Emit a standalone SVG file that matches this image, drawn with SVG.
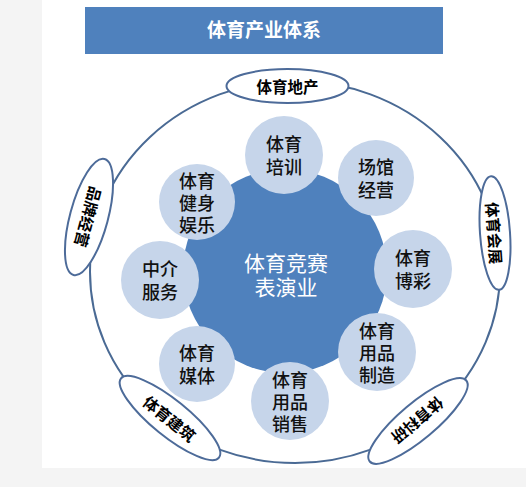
<svg xmlns="http://www.w3.org/2000/svg" width="526" height="487" viewBox="0 0 526 487">
<style>
  .cjk { font-family: "Noto Sans CJK SC", "Noto Sans", sans-serif; }
  .bub { fill: #c6d5ea; }
  .bubt { font-size: 18px; fill: #111; text-anchor: middle; font-weight: 500; }
  .lab { fill: #ffffff; stroke: #4d6b99; stroke-width: 2; }
  .labt { font-size: 15.5px; fill: #000; font-weight: bold; text-anchor: middle; dominant-baseline: central; }
</style>
<rect x="0" y="0" width="526" height="487" fill="#f4f4f4"/>
<rect x="42" y="0" width="484" height="468" fill="#ffffff"/>

<g id="title">
  <rect x="85" y="7" width="358" height="47" fill="#4f81bd"/>
  <text class="cjk" x="264" y="37" font-size="19" font-weight="bold" fill="#ffffff" text-anchor="middle">体育产业体系</text>
</g>

<g id="outer-ring">
  <ellipse cx="295" cy="272" rx="205" ry="191" fill="none" stroke="#4a6a94" stroke-width="2"/>
</g>

<g id="core">
  <circle cx="285" cy="271" r="102" fill="#4f81bd"/>
  <text class="cjk" x="286" y="271" font-size="21" fill="#ffffff" text-anchor="middle">体育竞赛</text>
  <text class="cjk" x="286" y="295" font-size="21" fill="#ffffff" text-anchor="middle">表演业</text>
</g>

<g id="n-peixun">
  <circle class="bub" cx="284" cy="155" r="39"/>
  <text class="cjk bubt" x="284" y="151">体育</text>
  <text class="cjk bubt" x="284" y="174">培训</text>
</g>
<g id="n-changguan">
  <circle class="bub" cx="376" cy="178" r="38"/>
  <text class="cjk bubt" x="376" y="174">场馆</text>
  <text class="cjk bubt" x="376" y="197">经营</text>
</g>
<g id="n-bocai">
  <circle class="bub" cx="413" cy="269" r="39"/>
  <text class="cjk bubt" x="413" y="265">体育</text>
  <text class="cjk bubt" x="413" y="288">博彩</text>
</g>
<g id="n-zhizao">
  <circle class="bub" cx="377" cy="352" r="39"/>
  <text class="cjk bubt" x="377" y="338">体育</text>
  <text class="cjk bubt" x="377" y="360">用品</text>
  <text class="cjk bubt" x="377" y="382">制造</text>
</g>
<g id="n-xiaoshou">
  <circle class="bub" cx="290" cy="401" r="39"/>
  <text class="cjk bubt" x="290" y="387">体育</text>
  <text class="cjk bubt" x="290" y="409">用品</text>
  <text class="cjk bubt" x="290" y="431">销售</text>
</g>
<g id="n-meiti">
  <circle class="bub" cx="197" cy="364" r="38"/>
  <text class="cjk bubt" x="197" y="360">体育</text>
  <text class="cjk bubt" x="197" y="383">媒体</text>
</g>
<g id="n-zhongjie">
  <circle class="bub" cx="160" cy="280" r="39"/>
  <text class="cjk bubt" x="160" y="276">中介</text>
  <text class="cjk bubt" x="160" y="299">服务</text>
</g>
<g id="n-jianshen">
  <circle class="bub" cx="197" cy="202" r="38"/>
  <text class="cjk bubt" x="197" y="188">体育</text>
  <text class="cjk bubt" x="197" y="210">健身</text>
  <text class="cjk bubt" x="197" y="232">娱乐</text>
</g>

<g id="o-dichan">
  <ellipse class="lab" cx="287.5" cy="86" rx="61" ry="17"/>
  <text class="cjk labt" x="287.5" y="86">体育地产</text>
</g>
<g id="o-pinpai" transform="translate(89,217) rotate(15)">
  <ellipse class="lab" cx="0" cy="0" rx="19" ry="60"/>
  <text class="cjk labt" x="0" y="0" transform="rotate(90)">品牌经营</text>
</g>
<g id="o-huizhan" transform="translate(495,233) rotate(-4)">
  <ellipse class="lab" cx="0" cy="0" rx="15" ry="57"/>
  <text class="cjk labt" x="0" y="0" transform="rotate(90)">体育会展</text>
</g>
<g id="o-jianzhu" transform="translate(170,418) rotate(39)">
  <ellipse class="lab" cx="0" cy="0" rx="63" ry="18"/>
  <text class="cjk labt" x="0" y="0">体育建筑</text>
</g>
<g id="o-keyan" transform="translate(418,421) rotate(-40)">
  <ellipse class="lab" cx="0" cy="0" rx="63" ry="18"/>
  <text class="cjk labt" x="0" y="0" transform="rotate(180)">体育科研</text>
</g>
</svg>
